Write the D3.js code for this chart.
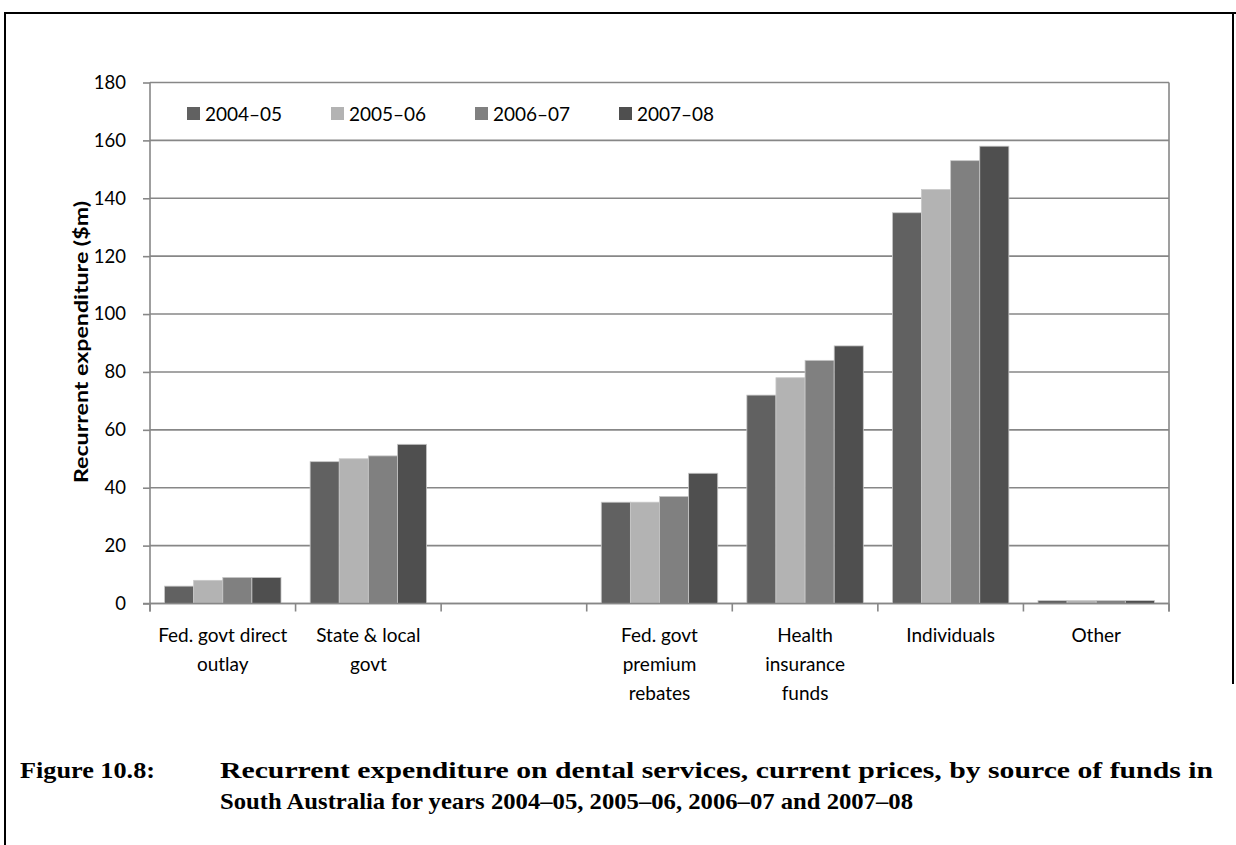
<!DOCTYPE html>
<html>
<head>
<meta charset="utf-8">
<script src="https://cdn.jsdelivr.net/npm/d3@7"></script>
<style>
  html, body { margin: 0; padding: 0; background: #fff; }
  svg { display: block; }
</style>
</head>
<body>
<svg id="chart" width="1236" height="845"></svg>
<script>
// ---- data ----
const categories = ["Fed. govt direct outlay", "State & local govt", "", "Fed. govt premium rebates", "Health insurance funds", "Individuals", "Other"];
const categoryLines = [["Fed. govt direct", "outlay"], ["State & local", "govt"], [], ["Fed. govt", "premium", "rebates"], ["Health", "insurance", "funds"], ["Individuals"], ["Other"]];
const seriesNames = ["2004\u201305", "2005\u201306", "2006\u201307", "2007\u201308"];
const s2004 = [6, 49, null, 35, 72, 135, 1];
const s2005 = [8, 50, null, 35, 78, 143, 1];
const s2006 = [9, 51, null, 37, 84, 153, 1];
const s2007 = [9, 55, null, 45, 89, 158, 1];
const seriesValues = [s2004, s2005, s2006, s2007];
const seriesColors = ["#616161", "#b3b3b3", "#808080", "#4f4f4f"];
const yTicks = [0, 20, 40, 60, 80, 100, 120, 140, 160, 180];
const yTitle = "Recurrent expenditure ($m)";
const captionLabel = "Figure 10.8:";
const captionLines = ["Recurrent expenditure on dental services, current prices, by source of funds in", "South Australia for years 2004\u201305, 2005\u201306, 2006\u201307 and 2007\u201308"];

// ---- layout ----
const svg = d3.select("#chart");
const pLeft = 150, pRight = 1169, pTop = 82.5, pBottom = 603.5;
const sansFont = "Lato, 'Open Sans', sans-serif";
const gridColor = "#878787";

// outer frame
svg.append("line").attr("x1", 5).attr("x2", 1236).attr("y1", 13).attr("y2", 13).attr("stroke", "#000").attr("stroke-width", 2);
svg.append("line").attr("x1", 5).attr("x2", 5).attr("y1", 12).attr("y2", 845).attr("stroke", "#000").attr("stroke-width", 2);
svg.append("line").attr("x1", 1233).attr("x2", 1233).attr("y1", 12).attr("y2", 684).attr("stroke", "#000").attr("stroke-width", 2);

const x0 = d3.scaleBand().domain(d3.range(categories.length)).range([pLeft, pRight]).paddingInner(0).paddingOuter(0);
const bw = x0.bandwidth();
const x1 = d3.scaleBand().domain(d3.range(seriesNames.length)).range([bw * 0.1, bw * 0.9]).padding(0);
const y = d3.scaleLinear().domain([0, 180]).range([pBottom, pTop]);

// gridlines + y axis
const yAxis = d3.axisLeft(y).tickValues(yTicks).tickSize(7).tickPadding(17).tickFormat(d3.format("d"));
const gy = svg.append("g").attr("transform", `translate(${pLeft},0)`).call(yAxis);
gy.select(".domain").remove();
gy.selectAll(".tick line").attr("stroke", gridColor).attr("stroke-width", 1.6);
gy.selectAll(".tick text").attr("font-family", sansFont).attr("font-size", 18.5).attr("fill", "#000");

svg.append("g").selectAll("line").data(yTicks).join("line")
  .attr("x1", pLeft).attr("x2", pRight)
  .attr("y1", d => y(d)).attr("y2", d => y(d))
  .attr("stroke", gridColor).attr("stroke-width", 1.6);

// bars
const groups = svg.append("g").selectAll("g").data(categories).join("g")
  .attr("transform", (d, i) => `translate(${x0(i)},0)`);
groups.selectAll("rect").data((d, i) => seriesValues.map((s, k) => ({ k, v: s[i] })).filter(e => e.v != null))
  .join("rect")
  .attr("x", e => x1(e.k))
  .attr("width", x1.bandwidth())
  .attr("y", e => y(e.v))
  .attr("height", e => y(0) - y(e.v))
  .attr("fill", e => seriesColors[e.k])
  .attr("stroke", "#c8c8c8")
  .attr("stroke-width", 0.8);

// axes lines (drawn above bars)
svg.append("line").attr("x1", pLeft).attr("x2", pLeft).attr("y1", pTop).attr("y2", pBottom + 8).attr("stroke", gridColor).attr("stroke-width", 1.6);
svg.append("line").attr("x1", pRight).attr("x2", pRight).attr("y1", pTop).attr("y2", pBottom + 8).attr("stroke", gridColor).attr("stroke-width", 1.6);
svg.append("line").attr("x1", pLeft - 7).attr("x2", pRight).attr("y1", pBottom).attr("y2", pBottom).attr("stroke", gridColor).attr("stroke-width", 1.6);

// x axis ticks at category boundaries
const bounds = d3.range(categories.length + 1).map(i => pLeft + i * bw);
svg.append("g").selectAll("line").data(bounds).join("line")
  .attr("x1", d => d).attr("x2", d => d).attr("y1", pBottom).attr("y2", pBottom + 8)
  .attr("stroke", gridColor).attr("stroke-width", 1.6);

// category labels
const lab = svg.append("g").attr("font-family", sansFont).attr("font-size", 19).attr("text-anchor", "middle").attr("fill", "#000");
categoryLines.forEach((lines, i) => {
  lines.forEach((t, j) => {
    lab.append("text").attr("x", x0(i) + bw / 2).attr("y", 642 + j * 29).text(t);
  });
});

// y title
svg.append("text")
  .attr("transform", `translate(88,${(pTop + pBottom) / 2 - 1}) rotate(-90)`)
  .attr("text-anchor", "middle")
  .attr("font-family", sansFont).attr("font-weight", "bold").attr("font-size", 18)
  .attr("textLength", 282).attr("lengthAdjust", "spacingAndGlyphs")
  .text(yTitle);

// legend
const legendX = [187, 331, 475, 619];
const lg = svg.append("g");
seriesNames.forEach((n, k) => {
  lg.append("rect").attr("x", legendX[k]).attr("y", 107).attr("width", 13).attr("height", 13).attr("fill", seriesColors[k]);
  lg.append("text").attr("x", legendX[k] + 18).attr("y", 120.5).attr("font-family", sansFont).attr("font-size", 19).text(n);
});

// caption
const cap = svg.append("g").attr("font-family", "'Liberation Serif', serif").attr("font-weight", "bold").attr("font-size", 23).attr("fill", "#000");
cap.append("text").attr("x", 20).attr("y", 778).attr("textLength", 135).attr("lengthAdjust", "spacingAndGlyphs").text(captionLabel);
const capLens = [993, 693];
captionLines.forEach((t, j) => cap.append("text").attr("x", 220).attr("y", 778 + j * 31)
  .attr("textLength", capLens[j]).attr("lengthAdjust", "spacingAndGlyphs").text(t));
</script>
</body>
</html>
